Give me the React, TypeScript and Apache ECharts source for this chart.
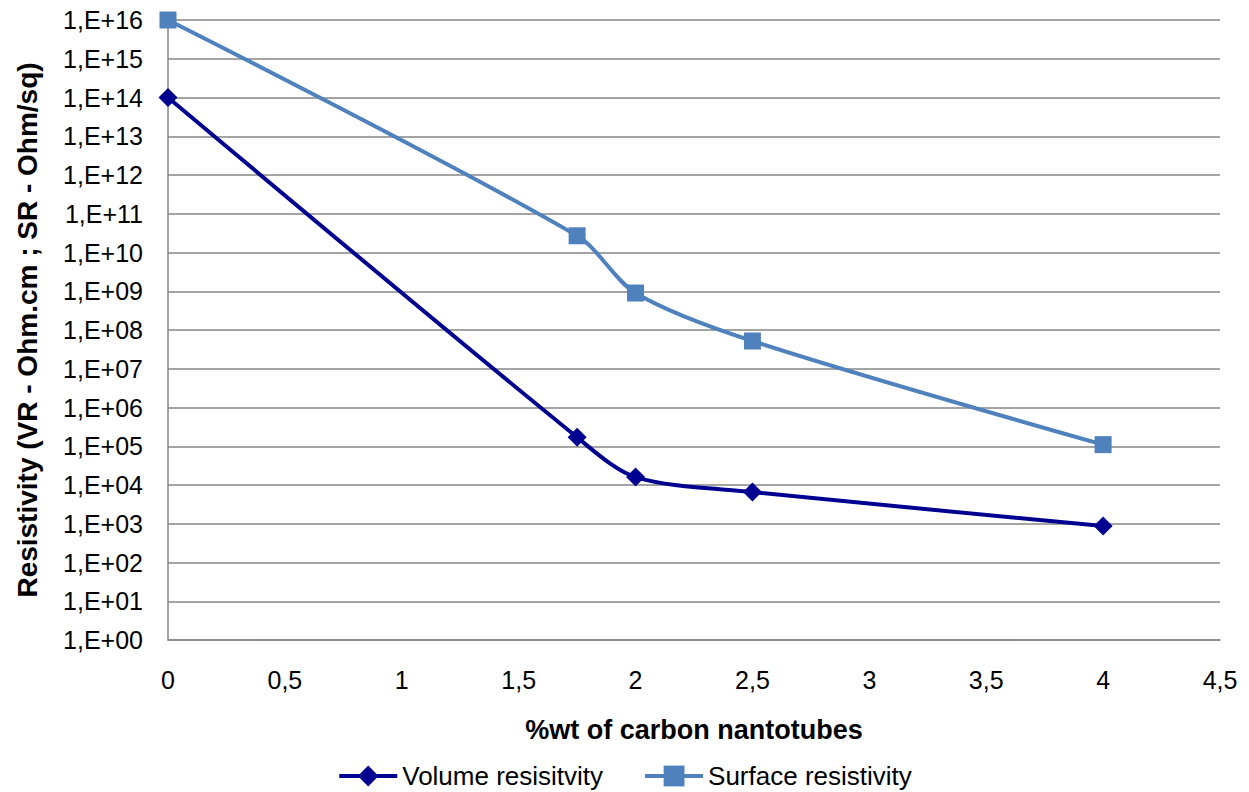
import React, { useEffect, useRef } from "react";
import * as echarts from "echarts";

const xValues = [0, 1.75, 2, 2.5, 4];
const volumeResistivity = [1e14, 1.7e5, 1.6e4, 6.6e3, 8.7e2];
const surfaceResistivity = [1e16, 2.7e10, 9e8, 5.2e7, 1.1e5];
const seriesNames = ["Volume resisitvity", "Surface resistivity"];
const xAxisTitle = "%wt of carbon nantotubes";
const yAxisTitle = "Resistivity (VR - Ohm.cm ; SR - Ohm/sq)";

export default function App() {
  const ref = useRef<HTMLDivElement>(null);
  useEffect(() => {
    if (!ref.current) return;
    const chart = echarts.init(ref.current, null, { renderer: "svg" });
    const font = "'Liberation Sans', Arial, sans-serif";
    chart.setOption({
      animation: false,
      textStyle: { fontFamily: font },
      grid: { left: 168, right: 29, top: 20, bottom: 152, containLabel: false },
      legend: {
        bottom: -2,
        left: "center",
        itemWidth: 58,
        itemHeight: 26,
        itemGap: 40,
        lineStyle: { width: 4 },
        textStyle: { fontSize: 26, color: "#000", fontFamily: font },
        data: seriesNames,
      },
      xAxis: {
        type: "value",
        min: 0,
        max: 4.5,
        interval: 0.5,
        name: xAxisTitle,
        nameLocation: "middle",
        nameGap: 76,
        nameTextStyle: { fontSize: 27, fontWeight: "bold", color: "#000", fontFamily: font },
        axisLine: { show: true, lineStyle: { color: "#868686", width: 1.5 } },
        axisTick: { show: false },
        splitLine: { show: false },
        axisLabel: {
          fontSize: 25,
          color: "#000",
          margin: 27,
          fontFamily: font,
          formatter: (v: number) => String(v).replace(".", ","),
        },
      },
      yAxis: {
        type: "log",
        logBase: 10,
        min: 1,
        max: 1e16,
        interval: 1,
        name: yAxisTitle,
        nameLocation: "middle",
        nameGap: 127,
        nameTextStyle: { fontSize: 28, fontWeight: "bold", color: "#000", fontFamily: font },
        axisLine: { show: true, lineStyle: { color: "#868686", width: 1.5 } },
        axisTick: { show: false },
        splitLine: { show: true, lineStyle: { color: "#868686", width: 1.5 } },
        axisLabel: {
          fontSize: 25,
          color: "#000",
          margin: 25,
          fontFamily: font,
          formatter: (v: number) => {
            const e = Math.round(Math.log10(v));
            return "1,E+" + (e < 10 ? "0" + e : String(e));
          },
        },
      },
      series: [
        {
          name: seriesNames[0],
          type: "line",
          data: xValues.map((x, i) => [x, volumeResistivity[i]]),
          smooth: 0.3,
          symbol: "diamond",
          symbolSize: 19,
          lineStyle: { color: "#000090", width: 4 },
          itemStyle: { color: "#000090" },
        },
        {
          name: seriesNames[1],
          type: "line",
          data: xValues.map((x, i) => [x, surfaceResistivity[i]]),
          smooth: 0.3,
          symbol: "rect",
          symbolSize: 17,
          lineStyle: { color: "#4F81BD", width: 4 },
          itemStyle: { color: "#4F81BD" },
        },
      ],
    });
    return () => chart.dispose();
  }, []);
  return (
    <div
      ref={ref}
      style={{ position: "fixed", left: 0, top: 0, width: 1249, height: 792, background: "#fff" }}
    />
  );
}
